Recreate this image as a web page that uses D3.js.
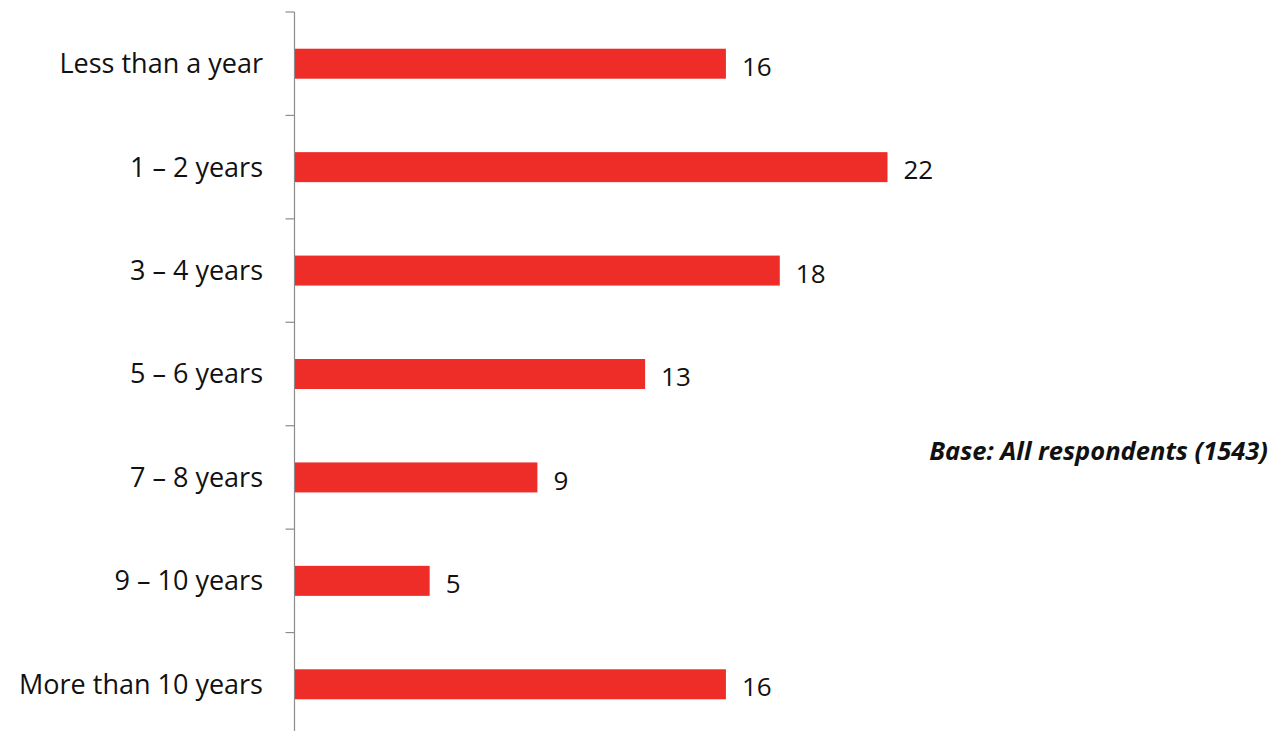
<!DOCTYPE html>
<html>
<head>
<meta charset="utf-8">
<script src="https://cdn.jsdelivr.net/npm/d3@7"></script>
<style>
  html, body { margin: 0; padding: 0; background: #fff; }
  svg { display: block; }
  text { font-family: "Open Sans", sans-serif; fill: #111; }
</style>
</head>
<body>
<svg id="chart" width="1272" height="731"></svg>
<script>
// Duration categories, top to bottom
const categories = [
  "Less than a year",
  "1 \u2013 2 years",
  "3 \u2013 4 years",
  "5 \u2013 6 years",
  "7 \u2013 8 years",
  "9 \u2013 10 years",
  "More than 10 years"
];
// Percentage of respondents
const values = [16, 22, 18, 13, 9, 5, 16];
const baseNote = "Base: All respondents (1543)";

const svg = d3.select("#chart");
const axisX = 294.5;

const y = d3.scaleBand()
  .domain(categories)
  .range([12, 736])
  .paddingInner(0.71)
  .paddingOuter(0.355);

const x = d3.scaleLinear()
  .domain([0, 22])
  .range([axisX + 0.5, 887.5]);

// Category axis with boundary ticks between bands
const step = y.step();
const tickYs = d3.range(categories.length + 1).map(i => 12 + i * step);
const axisG = svg.append("g");
axisG.append("line")
  .attr("x1", axisX).attr("x2", axisX)
  .attr("y1", 12).attr("y2", 731)
  .attr("stroke", "#8c8c8c").attr("stroke-width", 1.2);
axisG.selectAll("line.tick")
  .data(tickYs)
  .join("line")
  .attr("class", "tick")
  .attr("x1", axisX - 9).attr("x2", axisX)
  .attr("y1", d => d).attr("y2", d => d)
  .attr("stroke", "#8c8c8c").attr("stroke-width", 1.2);

// Category labels
svg.append("g").selectAll("text")
  .data(categories)
  .join("text")
  .attr("x", 263)
  .attr("y", d => y(d) + y.bandwidth() / 2)
  .attr("dy", "0.35em")
  .attr("text-anchor", "end")
  .style("font-size", "27px")
  .text(d => d);

// Bars
const data = categories.map((c, i) => ({ c, v: values[i] }));
svg.append("g").selectAll("rect")
  .data(data)
  .join("rect")
  .attr("x", x(0))
  .attr("y", d => y(d.c))
  .attr("width", d => x(d.v) - x(0))
  .attr("height", y.bandwidth())
  .attr("fill", "#ee2d29");

// Value labels
svg.append("g").selectAll("text")
  .data(data)
  .join("text")
  .attr("x", d => x(d.v) + 16)
  .attr("y", d => y(d.c) + y.bandwidth() / 2 + 3)
  .attr("dy", "0.35em")
  .style("font-size", "26px")
  .text(d => d.v);

// Base note
svg.append("text")
  .attr("x", 1268)
  .attr("y", 451)
  .attr("dy", "0.35em")
  .attr("text-anchor", "end")
  .style("font-size", "25.5px")
  .style("font-weight", "bold")
  .style("font-style", "italic")
  .text(baseNote);
</script>
</body>
</html>
